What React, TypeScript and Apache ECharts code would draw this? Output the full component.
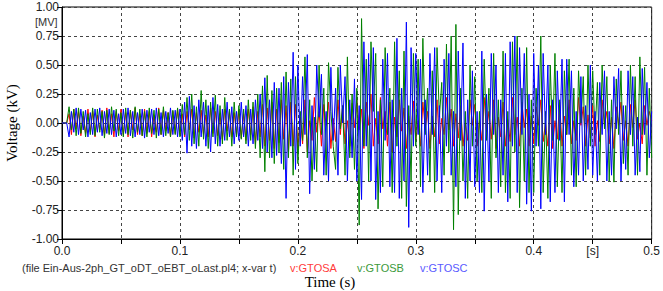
import React, { useEffect, useRef } from "react";
import * as echarts from "echarts";

// sampling step of the recorded signals (s)
const SAMPLE_STEP = 0.002;

const xTicks = [0, 0.05, 0.1, 0.15, 0.2, 0.25, 0.3, 0.35, 0.4, 0.45, 0.5];
const yTicks = [-1, -0.75, -0.5, -0.25, 0, 0.25, 0.5, 0.75, 1];

const seriesNames = ["v:GTOSA", "v:GTOSB", "v:GTOSC"];
const seriesColors = ["#ff0000", "#008000", "#0000ff"];
const legendColors = ["#ff3b3b", "#3c9a3c", "#5a5aff"];

const gtosa = [
  0, 0, 0, 0.08, -0.1, 0.12, -0.05, 0.1, -0.11, 0.06, -0.09, 0.12, -0.08, 0.1, -0.12, 0.07, -0.06, 0.11, -0.1, 0.13, -0.09, 0.08, -0.12, 0.1, -0.07,
  0.12, -0.1, 0.09, -0.12, 0.11, -0.06, 0.13, -0.1, 0.08, -0.11, 0.12, -0.09, 0.1, -0.12, 0.07, -0.08, 0.13, -0.1, 0.11, -0.07, 0.09, -0.12, 0.1, -0.09, 0.12,
  -0.1, 0.08, -0.12, 0.1, -0.06, 0.12, -0.13, 0.09, -0.08, 0.11, -0.1, 0.07, -0.12, 0.13, -0.09, 0.1, -0.11, 0.08, -0.14, 0.12, -0.07, 0.1, -0.12, 0.09, -0.1,
  0.11, -0.13, 0.08, -0.15, 0.12, -0.1, 0.14, -0.18, 0.1, -0.12, 0.16, -0.2, 0.13, -0.15, 0.18, -0.22, 0.12, -0.17, 0.2, -0.14, 0.15, -0.25, 0.18, -0.2, 0.16,
  -0.22, 0.05, -0.18, 0.2, -0.25, 0.02, -0.15, 0.22, -0.08, 0.1, -0.2, 0.16, -0.02, 0.18, -0.22, 0.04, -0.16, 0.2, -0.1, 0.15, -0.18, 0.02, -0.2, 0.17, -0.04,
  0.2, -0.06, 0.12, -0.22, 0.18, -0.02, 0.25, -0.2, 0.04, -0.18, 0.22, -0.05, 0.1, -0.2, 0.18, -0.25, 0.05, -0.12, 0.2, -0.07, 0.13, -0.22, 0.06, -0.1, 0.19,
  -0.15, 0.02, -0.2, 0.18, -0.04, 0.1, -0.22, 0.06, -0.12, 0.2, -0.18, 0.04, -0.1, 0.22, -0.06, 0.12, -0.2, 0.08, -0.13, 0.15, -0.2, 0.0, -0.15, 0.2, -0.02,
  0.16, -0.2, 0.02, -0.15, 0.22, -0.08, 0.1, -0.14, 0.2, -0.22, 0.05, -0.12, 0.18, -0.2, 0.03, -0.16, 0.22, -0.1, 0.05, -0.2, 0.18, -0.04, 0.12, -0.2, 0.06,
  -0.18, 0.14, -0.02, 0.2, -0.16, 0.0, -0.2, 0.15, -0.22, 0.02, -0.14, 0.18, -0.2, 0.06, -0.1, 0.2, -0.18, 0.02, -0.15, 0.22, -0.02, 0.14, -0.2, 0.07, -0.13,
  0.15, -0.2, 0.02, -0.16, 0.2, -0.02, 0.1, -0.18, 0.05, -0.22, 0.14, -0.02, 0.18, -0.15, 0.02, -0.2, 0.16, -0.04, 0.2, -0.14, 0.0, -0.18, 0.15, -0.02, 0.1, 0.02,
];

const gtosb = [
  0, 0, 0, 0.14, -0.06, 0.12, -0.11, 0.13, -0.09, 0.1, -0.12, 0.08, -0.1, 0.13, -0.11, 0.12, -0.08, 0.1, -0.13, 0.11, -0.1, 0.14, -0.07, 0.12, -0.11,
  0.09, -0.12, 0.13, -0.1, 0.11, -0.13, 0.14, -0.08, 0.12, -0.11, 0.1, -0.12, 0.13, -0.09, 0.11, -0.13, 0.12, -0.1, 0.14, -0.11, 0.09, -0.12, 0.11, -0.1, 0.13,
  -0.12, 0.16, -0.1, 0.22, -0.15, 0.25, -0.18, 0.14, -0.2, 0.28, -0.14, 0.2, -0.22, 0.18, -0.12, 0.24, -0.2, 0.15, -0.18, 0.22, -0.15, 0.12, -0.2, 0.18, -0.12,
  0.15, -0.14, 0.12, -0.18, 0.2, -0.15, 0.18, -0.22, 0.25, -0.3, 0.32, -0.42, 0.41, -0.3, 0.28, -0.35, 0.3, -0.25, 0.35, -0.4, 0.44, -0.3, 0.38, -0.45, 0.4,
  -0.35, 0.1, -0.15, 0.57, -0.3, 0.2, -0.5, 0.05, -0.42, 0.5, -0.1, 0.3, -0.45, 0.52, 0.1, -0.2, -0.4, 0.48, -0.05, 0.15, -0.45, 0.57, -0.3, 0.25, -0.4,
  0.3, -0.88, 0.9, -0.2, 0.55, -0.5, 0.7, 0.1, 0.6, -0.74, 0.2, -0.55, 0.65, -0.1, 0.3, -0.6, 0.7, -0.2, 0.45, -0.65, 0.62, -0.72, 0.15, -0.5, 0.6,
  -0.2, 0.55, -0.55, 0.73, -0.1, 0.3, -0.5, 0.45, -0.6, 0.65, 0.05, 0.35, -0.45, 0.68, -0.25, 0.75, -0.92, 0.85, -0.79, 0.3, -0.5, 0.1, -0.65, 0.5, -0.2,
  0.4, -0.5, 0.1, -0.6, 0.55, -0.15, 0.3, -0.65, 0.6, -0.3, 0.2, -0.55, 0.62, -0.6, 0.1, -0.65, 0.7, -0.25, 0.75, -0.73, 0.3, -0.5, 0.65, -0.6, 0.2,
  -0.6, 0.3, -0.2, 0.75, -0.6, 0.1, -0.65, 0.5, -0.15, 0.6, -0.55, 0.2, -0.6, 0.45, -0.1, 0.55, -0.45, 0.3, -0.55, 0.45, 0.0, 0.4, -0.45, 0.5, -0.2,
  0.45, -0.1, 0.35, -0.45, 0.5, -0.05, 0.4, -0.5, 0.2, -0.51, 0.38, -0.1, 0.45, -0.35, 0.15, -0.45, 0.5, -0.2, 0.4, -0.45, 0.57, -0.1, 0.48, -0.45, 0.3, -0.3,
];

const gtosc = [
  0, 0, 0, -0.12, 0.1, -0.08, 0.13, -0.1, 0.12, -0.06, 0.11, -0.12, 0.09, -0.1, 0.12, -0.08, 0.13, -0.11, 0.1, -0.09, 0.12, -0.1, 0.11, -0.12, 0.08,
  -0.1, 0.12, -0.09, 0.13, -0.11, 0.1, -0.12, 0.09, -0.1, 0.12, -0.13, 0.11, -0.08, 0.12, -0.1, 0.13, -0.11, 0.09, -0.12, 0.1, -0.09, 0.13, -0.1, 0.11, -0.12,
  0.12, -0.15, 0.18, -0.26, 0.23, -0.2, 0.15, -0.22, 0.2, -0.12, 0.18, -0.2, 0.15, -0.25, 0.22, -0.18, 0.16, -0.2, 0.12, -0.15, 0.18, -0.12, 0.14, -0.18, 0.1,
  -0.15, 0.18, -0.12, 0.15, -0.2, 0.12, -0.18, 0.2, -0.15, 0.25, -0.22, 0.39, -0.25, 0.2, -0.3, 0.35, -0.28, 0.3, -0.35, 0.4, -0.65, 0.35, -0.2, 0.61, -0.4,
  0.5, -0.2, 0.4, -0.1, 0.59, -0.61, 0.15, -0.4, 0.5, 0.05, 0.42, -0.45, 0.1, -0.5, 0.48, -0.15, 0.3, -0.45, 0.5, 0.0, 0.4, -0.5, 0.2, -0.3, 0.38,
  -0.5, 0.15, -0.66, 0.7, -0.2, 0.6, -0.5, 0.65, -0.66, 0.1, -0.6, 0.55, -0.15, 0.6, -0.55, 0.2, -0.6, 0.73, -0.65, 0.3, -0.5, 0.87, -0.9, 0.65, -0.2,
  0.6, -0.1, 0.55, -0.6, 0.2, -0.45, 0.6, -0.1, 0.65, -0.5, 0.15, -0.6, 0.55, -0.2, 0.6, -0.45, 0.1, -0.55, 0.62, -0.15, 0.69, -0.65, 0.2, -0.5, 0.45,
  -0.55, 0.1, -0.6, 0.62, -0.76, 0.25, -0.5, 0.6, -0.1, 0.5, -0.6, 0.2, -0.45, 0.6, -0.68, 0.7, -0.2, 0.75, -0.6, 0.65, -0.1, 0.6, -0.7, 0.25, -0.76,
  0.6, -0.2, 0.5, -0.74, 0.6, -0.1, 0.5, -0.68, 0.2, -0.6, 0.45, -0.15, 0.55, -0.68, 0.55, -0.1, 0.45, -0.55, 0.1, -0.45, 0.4, -0.5, 0.15, -0.4, 0.5,
  -0.45, 0.1, -0.5, 0.35, -0.1, 0.45, -0.5, 0.1, -0.45, 0.4, -0.05, 0.47, -0.5, 0.15, -0.4, 0.45, -0.1, 0.4, -0.45, 0.05, -0.42, 0.47, -0.1, 0.35, -0.3, 0.1,
];

const seriesValues = [gtosa, gtosb, gtosc];

const fileLabel = "(file Ein-Aus-2ph_GT_oDT_oEBT_oLast.pl4; x-var t)";
const unitLabel = "[MV]";
const xUnitLabel = "[s]";
const xTitle = "Time (s)";
const yTitle = "Voltage (kV)";

const sans = "Liberation Sans, Arial, sans-serif";
const serif = "Liberation Serif, Times New Roman, serif";

export default function App() {
  const ref = useRef<HTMLDivElement>(null);

  useEffect(() => {
    if (!ref.current) return;
    const chart = echarts.init(ref.current, undefined, { renderer: "svg" });

    const near = (a: number, b: number) => Math.abs(a - b) < 1e-6;

    const option: any = {
      animation: false,
      backgroundColor: "#ffffff",
      grid: {
        left: 62,
        top: 7,
        width: 593,
        height: 232,
        show: true,
        borderColor: "#000",
        borderWidth: 1,
        containLabel: false,
      },
      xAxis: {
        type: "value",
        min: xTicks[0],
        max: xTicks[xTicks.length - 1],
        interval: 0.05,
        axisLine: { show: true, onZero: false, lineStyle: { color: "#000", width: 1 } },
        axisTick: { show: true, inside: false, length: 5, lineStyle: { color: "#000" } },
        axisLabel: {
          show: true,
          margin: 6,
          color: "#222",
          fontFamily: sans,
          fontSize: 12,
          showMinLabel: true,
          showMaxLabel: true,
          formatter: (v: number) => {
            if (near(v, 0.45)) return xUnitLabel;
            const r = Math.round(v * 10) / 10;
            if (near(v, r)) return r.toFixed(1);
            return "";
          },
        },
        splitLine: { show: true, lineStyle: { color: "#444", type: [3, 3], width: 1 } },
      },
      yAxis: {
        type: "value",
        min: yTicks[0],
        max: yTicks[yTicks.length - 1],
        interval: 0.25,
        axisLine: { show: true, onZero: false, lineStyle: { color: "#000", width: 1 } },
        axisTick: { show: true, inside: false, length: 5, lineStyle: { color: "#000" } },
        axisLabel: {
          show: true,
          margin: 3,
          color: "#222",
          fontFamily: sans,
          fontSize: 12,
          formatter: (v: number) => v.toFixed(2),
        },
        splitLine: { show: true, lineStyle: { color: "#444", type: [3, 3], width: 1 } },
      },
      series: seriesValues.map((vals, k) => ({
        type: "line",
        name: seriesNames[k],
        data: vals.map((v, i) => [i * SAMPLE_STEP, v]),
        showSymbol: false,
        symbol: "none",
        lineStyle: { color: seriesColors[k], width: 1 },
        itemStyle: { color: seriesColors[k] },
        z: 2 + k,
        silent: true,
      })),
      graphic: [
        {
          type: "text",
          left: 35,
          top: 16,
          style: { text: unitLabel, fill: "#333", font: `11px ${sans}` },
        },
        {
          type: "text",
          x: 12,
          y: 123,
          rotation: Math.PI / 2,
          style: {
            text: yTitle,
            fill: "#000",
            font: `15px ${serif}`,
            textAlign: "center",
            textVerticalAlign: "middle",
          },
        },
        {
          type: "text",
          x: 22,
          y: 268,
          style: { text: fileLabel, fill: "#333", font: `11px ${sans}`, textVerticalAlign: "middle" },
        },
        {
          type: "text",
          x: 290,
          y: 268,
          style: { text: seriesNames[0], fill: legendColors[0], font: `11px ${sans}`, textVerticalAlign: "middle" },
        },
        {
          type: "text",
          x: 357,
          y: 268,
          style: { text: seriesNames[1], fill: legendColors[1], font: `11px ${sans}`, textVerticalAlign: "middle" },
        },
        {
          type: "text",
          x: 420,
          y: 268,
          style: { text: seriesNames[2], fill: legendColors[2], font: `11px ${sans}`, textVerticalAlign: "middle" },
        },
        {
          type: "text",
          x: 330,
          y: 282,
          style: {
            text: xTitle,
            fill: "#000",
            font: `15px ${serif}`,
            textAlign: "center",
            textVerticalAlign: "middle",
          },
        },
      ],
    };

    chart.setOption(option);
    return () => {
      chart.dispose();
    };
  }, []);

  return (
    <div
      ref={ref}
      style={{ position: "fixed", left: 0, top: 0, width: 663, height: 291, background: "#fff" }}
    />
  );
}
